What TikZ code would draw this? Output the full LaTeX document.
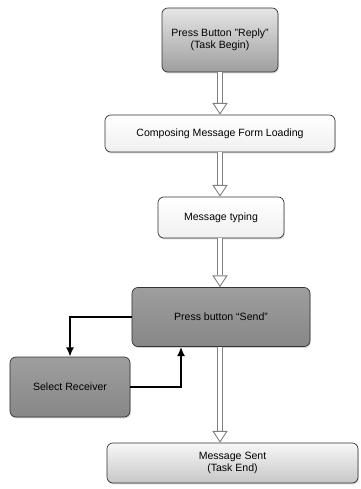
\documentclass[tikz,border=0pt]{standalone}
\usepackage{fontspec}
\setmainfont{Liberation Sans}
\usetikzlibrary{arrows.meta,shadows}
\tikzset{>=latex}
\tikzset{
  box/.style={draw=black!80, line width=0.6pt, rounded corners=5pt, align=center,
    font=\fontsize{9}{10.5}\selectfont, inner sep=2pt,
    drop shadow={shadow xshift=0.6pt, shadow yshift=-1.2pt, opacity=0.35}},
  lightbox/.style={box, top color=white, bottom color=black!6},
  darkbox/.style={box, top color=black!38, bottom color=black!47},
  startbox/.style={box, top color=black!10, bottom color=black!38},
  endbox/.style={box, top color=black!3, bottom color=black!22},
  hollow/.style={draw=black!50, line width=5.6pt, shorten >=10pt,
    postaction={draw=white, line width=3.8pt, shorten >=9pt},
    postaction={draw=white, line width=0.1pt, shorten >=0pt,
      -{Triangle[color=black!50, fill=white, line width=0.8pt, length=10pt, width=13pt]}}},
  flow/.style={->, line width=1.5pt, >={Latex[length=8pt, width=7pt]}}
}
\begin{document}
\begin{tikzpicture}[x=0.03cm,y=-0.03cm]
  \useasboundingbox (0,0) rectangle (360,489);
  % boxes
  \node[startbox, minimum width=3.48cm, minimum height=1.92cm] (reply) at (220,40)
    {Press Button "Reply"\\(Task Begin)};
  \node[lightbox, minimum width=6.9cm, minimum height=1.11cm] (compose) at (220,133.5)
    {Composing Message Form Loading};
  \node[lightbox, minimum width=3.78cm, minimum height=1.23cm] (typing) at (221,217.5)
    {Message typing};
  \node[darkbox, minimum width=5.34cm, minimum height=1.77cm] (send) at (221,317)
    {Press button ``Send''};
  \node[darkbox, minimum width=3.6cm, minimum height=1.8cm] (receiver) at (70,387)
    {Select Receiver};
  \node[endbox, minimum width=7.53cm, minimum height=1.2cm] (sent) at (232.5,463)
    {Message Sent\\(Task End)};
  % main flow
  \draw[hollow] (reply.south) -- (reply.south |- compose.north);
  \draw[hollow] (compose.south) -- (compose.south |- typing.north);
  \draw[hollow] (reply.south |- typing.south) -- (reply.south |- send.north);
  \draw[hollow] (reply.south |- send.south) -- (reply.south |- sent.north);
  % loop
  \draw[flow] (send.west) -| (receiver.north);
  \draw[flow] (receiver.east) -| ([xshift=-1.2cm]send.south);
\end{tikzpicture}
\end{document}
